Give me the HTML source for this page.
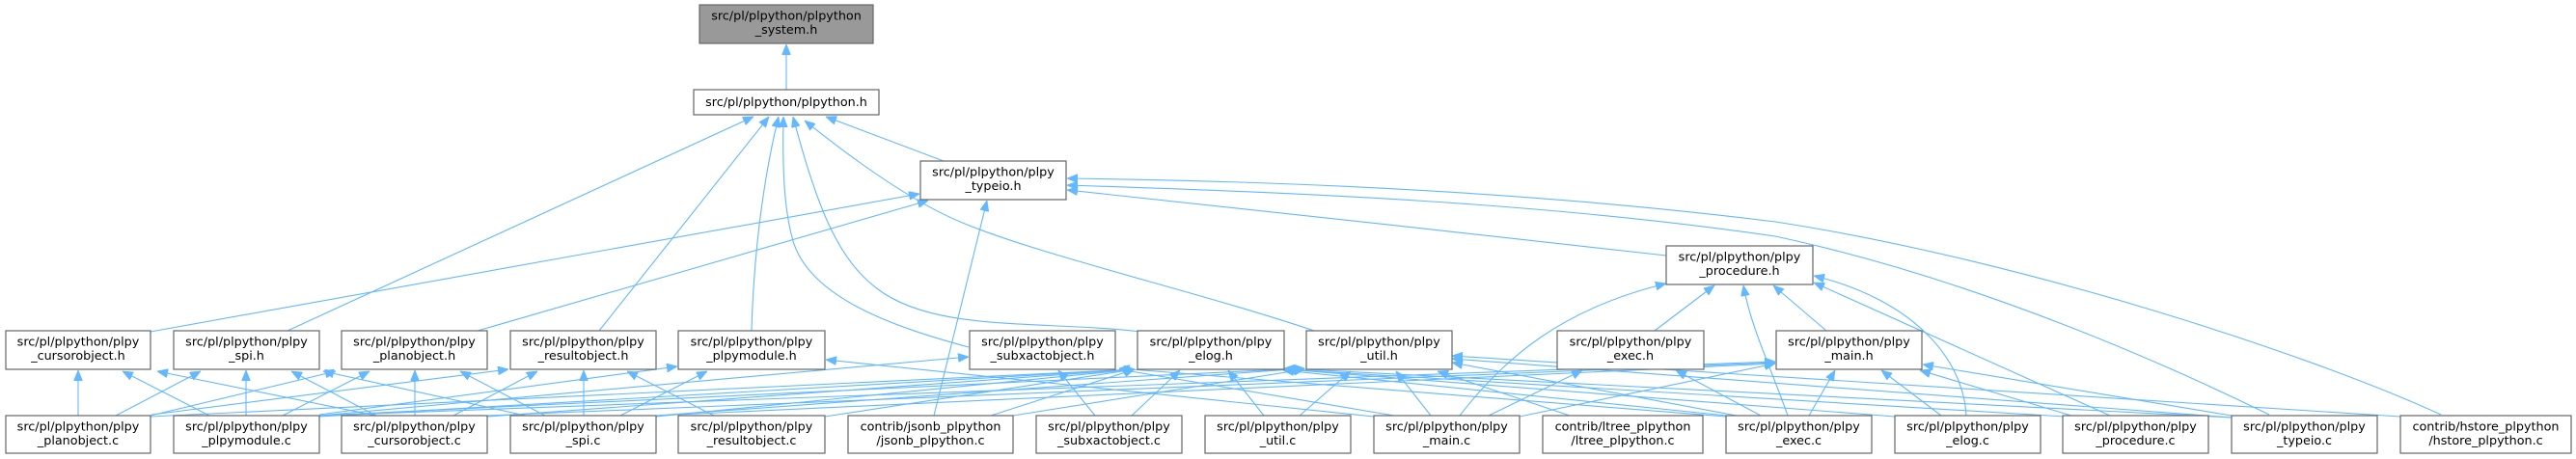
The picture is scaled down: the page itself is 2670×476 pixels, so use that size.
<!DOCTYPE html>
<html><head><meta charset="utf-8"><style>
html,body{margin:0;padding:0;background:#fff;}
svg{display:block;}
text{font-family:"DejaVu Sans","Liberation Sans",sans-serif;font-size:12.75px;fill:#000;text-anchor:middle;}
.e{fill:none;stroke:#63b8ff;stroke-width:1.1;marker-end:url(#a);}
.n{fill:#fff;stroke:#666;stroke-width:1.2;}
</style></head><body>
<svg width="2670" height="476" viewBox="0 0 2670 476" xmlns="http://www.w3.org/2000/svg">
<defs><marker id="a" viewBox="0 0 11 9" refX="11" refY="4.5" markerWidth="11" markerHeight="9" markerUnits="userSpaceOnUse" orient="auto"><path d="M0,0 L11,4.5 L0,9 z" fill="#63b8ff" stroke="#63b8ff" stroke-width="0.8"/></marker></defs>
<rect width="2670" height="476" fill="#fff"/>
<g>
<path class="e" d="M815,93 L815,46"/>
<path class="e" d="M298,343 L781,121"/>
<path class="e" d="M621,343 L797,121"/>
<path class="e" d="M779,343 C781,270 790,190 807,121"/>
<path class="e" d="M1004,360 C930,340 840,310 822,250 C812,215 811,170 812,121"/>
<path class="e" d="M1182,344 C1080,332 970,345 910,300 C870,270 848,220 822,121"/>
<path class="e" d="M1362,343 C1250,305 1080,265 1000,232 C950,212 890,170 834,125"/>
<path class="e" d="M978,167 L856,121"/>
<path class="e" d="M156,344 L953,201"/>
<path class="e" d="M495,343 L962,208"/>
<path class="e" d="M1727,265 C1550,245 1250,212 1106,197"/>
<path class="e" d="M968,431 L1023,208"/>
<path class="e" d="M2352,430 C2250,380 2050,290 1840,245 C1600,210 1350,200 1106,192"/>
<path class="e" d="M2530,430 C2400,370 2100,270 1840,230 C1600,200 1350,188 1106,185"/>
<path class="e" d="M1893,343 L1838,296"/>
<path class="e" d="M1715,343 L1777,296"/>
<path class="e" d="M1513,431 C1560,370 1620,320 1727,294"/>
<path class="e" d="M1853,431 C1835,380 1815,340 1807,296"/>
<path class="e" d="M2038,431 C2035,370 1980,310 1880,286"/>
<path class="e" d="M2187,431 L1880,293"/>
<path class="e" d="M1875,431 L1902,384"/>
<path class="e" d="M2012,431 L1950,384"/>
<path class="e" d="M2147,431 L1990,384"/>
<path class="e" d="M2313,431 L1993,378"/>
<path class="e" d="M1575,432 L1840,377"/>
<path class="e" d="M1173,431 L1223,384"/>
<path class="e" d="M1310,431 L1273,384"/>
<path class="e" d="M1027,431 L1176,383"/>
<path class="e" d="M855,432 L1176,383"/>
<path class="e" d="M680,432 L1176,383"/>
<path class="e" d="M505,432 L1176,383"/>
<path class="e" d="M331,432 L1176,383"/>
<path class="e" d="M156,432 L1176,383"/>
<path class="e" d="M1790,431 L1330,384"/>
<path class="e" d="M1964,432 L1331,383"/>
<path class="e" d="M2140,432 L1331,383"/>
<path class="e" d="M2313,433 L1331,382"/>
<path class="e" d="M1347,431 L1400,385"/>
<path class="e" d="M1483,431 L1447,385"/>
<path class="e" d="M1627,431 L1490,385"/>
<path class="e" d="M1050,431 L1352,383"/>
<path class="e" d="M680,431 L1352,382"/>
<path class="e" d="M331,431 L1352,382"/>
<path class="e" d="M1800,431 L1505,376"/>
<path class="e" d="M2313,433 L1505,372"/>
<path class="e" d="M2488,432 L1505,369"/>
<path class="e" d="M1135,431 L1097,384"/>
<path class="e" d="M331,431 L1004,370"/>
<path class="e" d="M1445,431 L1160,383"/>
<path class="e" d="M1789,432 L1160,382"/>
<path class="e" d="M643,431 L733,385"/>
<path class="e" d="M1424,432 L856,373"/>
<path class="e" d="M331,430 L702,380"/>
<path class="e" d="M740,431 L650,385"/>
<path class="e" d="M605,431 L605,384"/>
<path class="e" d="M470,431 L557,385"/>
<path class="e" d="M157,430 L527,383"/>
<path class="e" d="M156,431 L348,385"/>
<path class="e" d="M293,431 L383,385"/>
<path class="e" d="M430,431 L430,384"/>
<path class="e" d="M565,431 L477,385"/>
<path class="e" d="M120,431 L208,385"/>
<path class="e" d="M255,431 L255,384"/>
<path class="e" d="M390,431 L302,385"/>
<path class="e" d="M545,431 L335,385"/>
<path class="e" d="M81,431 L81,384"/>
<path class="e" d="M217,431 L127,385"/>
<path class="e" d="M390,431 L163,385"/>
<path class="e" d="M1543,431 L1640,384"/>
<path class="e" d="M1825,431 L1737,384"/>
<path class="e" d="M505,431 L1840,376"/>
<path class="e" d="M331,431 L1840,375"/>
<path class="e" d="M680,431 L1840,377"/>
</g>
<g>
<rect x="725" y="5" width="180" height="40" fill="#999" stroke="#666" stroke-width="1.2"/>
<text x="815" y="20.5">src/pl/plpython/plpython</text><text x="815" y="35">_system.h</text>

<rect class="n" x="719" y="93" width="192" height="26"/>
<text x="815" y="110">src/pl/plpython/plpython.h</text>

<rect class="n" x="954" y="167" width="151" height="40"/>
<text x="1029.5" y="182.5">src/pl/plpython/plpy</text><text x="1029.5" y="197">_typeio.h</text>

<rect class="n" x="1727" y="255" width="152" height="40"/>
<text x="1803" y="270.5">src/pl/plpython/plpy</text><text x="1803" y="285">_procedure.h</text>

<rect class="n" x="6" y="343" width="150" height="40"/>
<text x="81" y="358.5">src/pl/plpython/plpy</text><text x="81" y="373">_cursorobject.h</text>
<rect class="n" x="180" y="343" width="151" height="40"/>
<text x="255.5" y="358.5">src/pl/plpython/plpy</text><text x="255.5" y="373">_spi.h</text>
<rect class="n" x="354" y="343" width="151" height="40"/>
<text x="429.5" y="358.5">src/pl/plpython/plpy</text><text x="429.5" y="373">_planobject.h</text>
<rect class="n" x="529" y="343" width="151" height="40"/>
<text x="604.5" y="358.5">src/pl/plpython/plpy</text><text x="604.5" y="373">_resultobject.h</text>
<rect class="n" x="703" y="343" width="152" height="40"/>
<text x="779" y="358.5">src/pl/plpython/plpy</text><text x="779" y="373">_plpymodule.h</text>
<rect class="n" x="1005" y="343" width="151" height="40"/>
<text x="1080.5" y="358.5">src/pl/plpython/plpy</text><text x="1080.5" y="373">_subxactobject.h</text>
<rect class="n" x="1179" y="343" width="152" height="40"/>
<text x="1255" y="358.5">src/pl/plpython/plpy</text><text x="1255" y="373">_elog.h</text>
<rect class="n" x="1354" y="343" width="151" height="40"/>
<text x="1429.5" y="358.5">src/pl/plpython/plpy</text><text x="1429.5" y="373">_util.h</text>
<rect class="n" x="1614" y="343" width="152" height="40"/>
<text x="1690" y="358.5">src/pl/plpython/plpy</text><text x="1690" y="373">_exec.h</text>
<rect class="n" x="1841" y="343" width="151" height="40"/>
<text x="1916.5" y="358.5">src/pl/plpython/plpy</text><text x="1916.5" y="373">_main.h</text>

<rect class="n" x="6" y="431" width="150" height="39"/>
<text x="81" y="446.5">src/pl/plpython/plpy</text><text x="81" y="461">_planobject.c</text>
<rect class="n" x="180" y="431" width="151" height="39"/>
<text x="255.5" y="446.5">src/pl/plpython/plpy</text><text x="255.5" y="461">_plpymodule.c</text>
<rect class="n" x="354" y="431" width="151" height="39"/>
<text x="429.5" y="446.5">src/pl/plpython/plpy</text><text x="429.5" y="461">_cursorobject.c</text>
<rect class="n" x="529" y="431" width="151" height="39"/>
<text x="604.5" y="446.5">src/pl/plpython/plpy</text><text x="604.5" y="461">_spi.c</text>
<rect class="n" x="703" y="431" width="152" height="39"/>
<text x="779" y="446.5">src/pl/plpython/plpy</text><text x="779" y="461">_resultobject.c</text>
<rect class="n" x="879" y="431" width="171" height="39"/>
<text x="964.5" y="446.5">contrib/jsonb_plpython</text><text x="964.5" y="461">/jsonb_plpython.c</text>
<rect class="n" x="1074" y="431" width="151" height="39"/>
<text x="1149.5" y="446.5">src/pl/plpython/plpy</text><text x="1149.5" y="461">_subxactobject.c</text>
<rect class="n" x="1249" y="431" width="151" height="39"/>
<text x="1324.5" y="446.5">src/pl/plpython/plpy</text><text x="1324.5" y="461">_util.c</text>
<rect class="n" x="1424" y="431" width="151" height="39"/>
<text x="1499.5" y="446.5">src/pl/plpython/plpy</text><text x="1499.5" y="461">_main.c</text>
<rect class="n" x="1599" y="431" width="166" height="39"/>
<text x="1682" y="446.5">contrib/ltree_plpython</text><text x="1682" y="461">/ltree_plpython.c</text>
<rect class="n" x="1789" y="431" width="151" height="39"/>
<text x="1864.5" y="446.5">src/pl/plpython/plpy</text><text x="1864.5" y="461">_exec.c</text>
<rect class="n" x="1964" y="431" width="151" height="39"/>
<text x="2039.5" y="446.5">src/pl/plpython/plpy</text><text x="2039.5" y="461">_elog.c</text>
<rect class="n" x="2138" y="431" width="151" height="39"/>
<text x="2213.5" y="446.5">src/pl/plpython/plpy</text><text x="2213.5" y="461">_procedure.c</text>
<rect class="n" x="2313" y="431" width="151" height="39"/>
<text x="2388.5" y="446.5">src/pl/plpython/plpy</text><text x="2388.5" y="461">_typeio.c</text>
<rect class="n" x="2488" y="431" width="177" height="39"/>
<text x="2576.5" y="446.5">contrib/hstore_plpython</text><text x="2576.5" y="461">/hstore_plpython.c</text>
</g>
</svg>
</body></html>
